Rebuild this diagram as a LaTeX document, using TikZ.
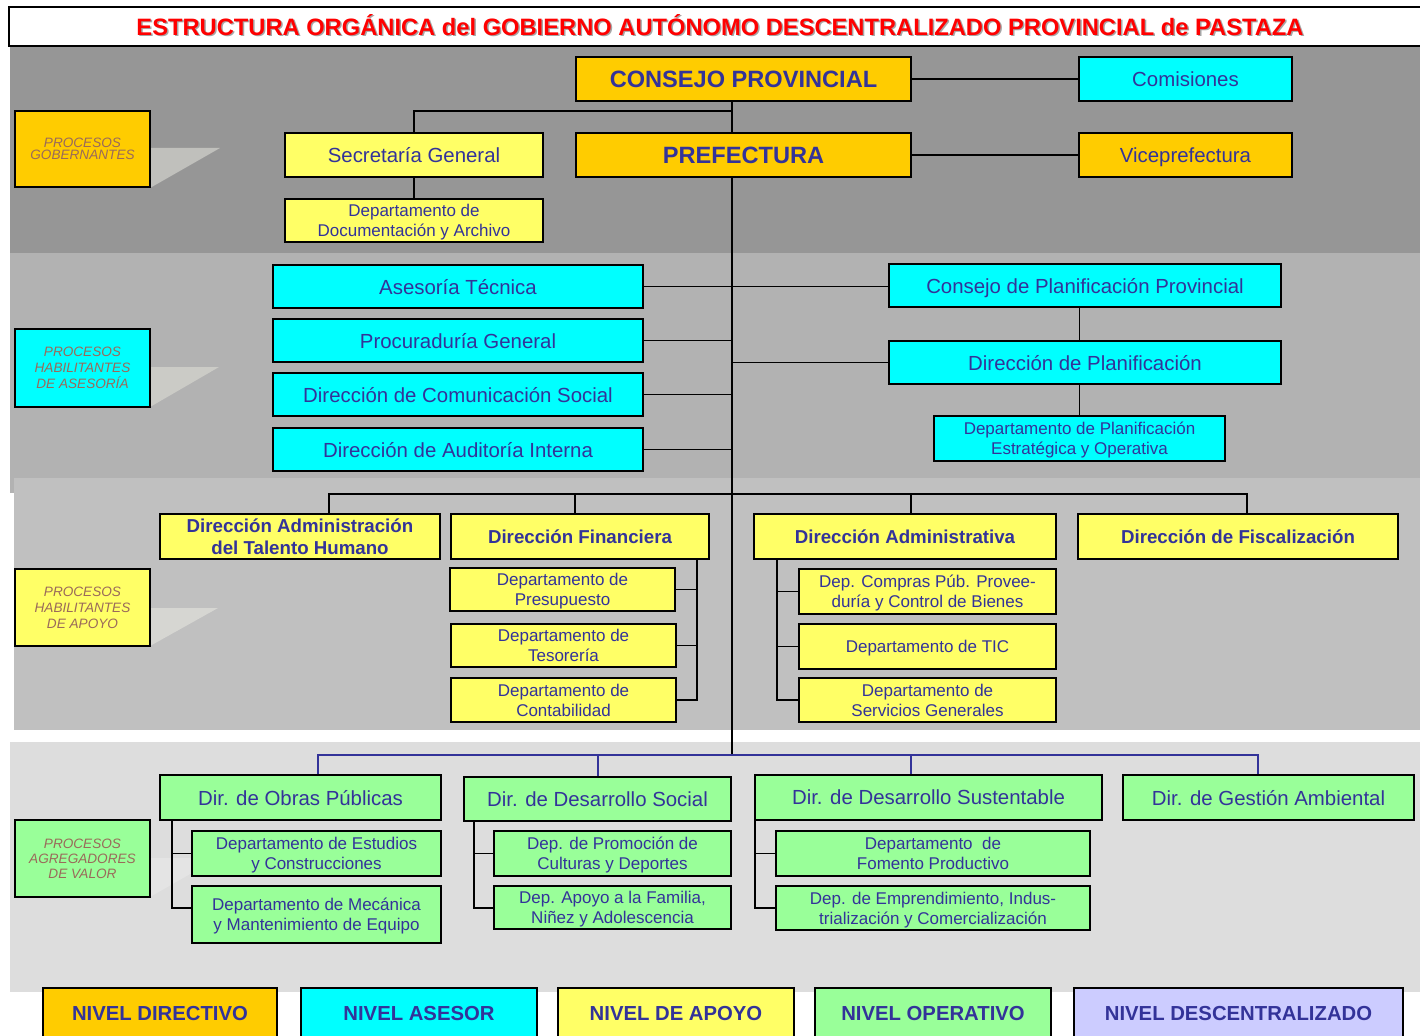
\documentclass[tikz,border=0pt]{standalone}
\usepackage{fontspec}
\setmainfont{Liberation Sans}
\definecolor{org}{HTML}{FFCC00}
\definecolor{cyn}{HTML}{00FFFF}
\definecolor{yel}{HTML}{FFFF66}
\definecolor{grn}{HTML}{99FF99}
\definecolor{lav}{HTML}{CCCCFF}
\definecolor{txt}{HTML}{333399}
\definecolor{lbl}{HTML}{9A6A5A}
\definecolor{bandA}{HTML}{969696}
\definecolor{bandB}{HTML}{B2B2B2}
\definecolor{bandC}{HTML}{C0C0C0}
\definecolor{bandD}{HTML}{DDDDDD}
\definecolor{ptrA}{HTML}{C0C0BC}
\definecolor{ptrB}{HTML}{CBCBC6}
\definecolor{ptrC}{HTML}{D6D6D2}
\definecolor{ptrD}{HTML}{E4E4E4}
\newcommand{\szBig}{\fontsize{23.6}{26}\selectfont\bfseries}
\newcommand{\szMid}{\fontsize{20.4}{24}\selectfont}
\newcommand{\szDir}{\fontsize{18.7}{22}\selectfont\bfseries}
\newcommand{\szDep}{\fontsize{17}{20}\selectfont}
\newcommand{\szLab}{\fontsize{13.6}{16}\selectfont\itshape}
\newcommand{\szLabT}{\fontsize{13.6}{12}\selectfont\itshape}
\newcommand{\szLeg}{\fontsize{20.3}{24}\selectfont\bfseries}
\newcommand{\bx}[7]{\node[#6, minimum width={(#4-#2)*1pt}, minimum height={(#5-#3)*1pt}] (#1) at ({(#2+#4)/2},{(#3+#5)/2}) {#7};}
\begin{document}
\begin{tikzpicture}[x=1pt,y=-1pt,
  box/.style={draw=black, line width=1.3pt, inner sep=2pt, align=center, text=txt, text depth=0pt},
  lbox/.style={draw=black, line width=1.3pt, inner sep=2pt, align=center, text=lbl},
  con/.style={draw=black, line width=1.3pt},
  bcon/.style={draw=txt, line width=1.3pt}]
\useasboundingbox (0,0) rectangle (1420,1035);
\fill[white] (0,0) rectangle (1420,1035);
% bands
\fill[bandA] (10,46) rectangle (1420,253);
\fill[bandB] (10,253) rectangle (1420,493);
\fill[bandC] (14,478) rectangle (1420,730);
\fill[bandD] (10,742) rectangle (1420,992);
% title
\draw[line width=1.3pt, fill=white] (9,7) rectangle (1430,46);
\node[font=\fontsize{23.7}{26}\selectfont\bfseries, text=black!35] (titsh) at (721.5,26.5) {ESTRUCTURA ORGÁNICA del GOBIERNO AUTÓNOMO DESCENTRALIZADO PROVINCIAL de PASTAZA};
\node[font=\fontsize{23.7}{26}\selectfont\bfseries, text=red] (title) at (720,25) {ESTRUCTURA ORGÁNICA del GOBIERNO AUTÓNOMO DESCENTRALIZADO PROVINCIAL de PASTAZA};
% label pointers
\fill[ptrA] (150,148) -- (220,148) -- (150,188) -- cycle;
\fill[ptrB] (150,367) -- (219,367) -- (150,407) -- cycle;
\fill[ptrC] (150,608) -- (218,608) -- (150,646) -- cycle;
\fill[ptrD] (150,858) -- (218,858) -- (150,897) -- cycle;
% left labels
\bx{lgob}{15}{111}{150}{187}{lbox,fill=org,font=\szLabT}{PROCESOS\\GOBERNANTES}
\bx{lase}{15}{329}{150}{407}{lbox,fill=cyn,font=\szLab}{PROCESOS\\HABILITANTES\\DE ASESORÍA}
\bx{lapo}{15}{569}{150}{646}{lbox,fill=yel,font=\szLab}{PROCESOS\\HABILITANTES\\DE APOYO}
\bx{lval}{15}{820}{150}{897}{lbox,fill=grn,font=\fontsize{13.6}{15}\selectfont\itshape}{PROCESOS\\AGREGADORES\\DE VALOR}
% band 1
\bx{consejo}{576}{57}{911}{101}{box,fill=org,font=\szBig}{CONSEJO PROVINCIAL}
\bx{comisiones}{1079}{57}{1292}{101}{box,fill=cyn,font=\szMid}{Comisiones}
\bx{secretaria}{285}{133}{543}{177}{box,fill=yel,font=\szMid}{Secretaría General}
\bx{prefectura}{576}{133}{911}{177}{box,fill=org,font=\szBig}{PREFECTURA}
\bx{vice}{1079}{133}{1292}{177}{box,fill=org,font=\szMid}{Viceprefectura}
\bx{docarch}{285}{199}{543}{242}{box,fill=yel,font=\szDep}{Departamento de\\Documentación y Archivo}
% band 2
\bx{asesoria}{273}{265}{643}{308}{box,fill=cyn,font=\szMid}{Asesoría Técnica}
\bx{procu}{273}{319}{643}{362}{box,fill=cyn,font=\szMid}{Procuraduría General}
\bx{comun}{273}{373}{643}{416}{box,fill=cyn,font=\szMid}{Dirección de Comunicación Social}
\bx{audit}{273}{428}{643}{471}{box,fill=cyn,font=\szMid}{Dirección de Auditoría Interna}
\bx{cplan}{889}{264}{1281}{307}{box,fill=cyn,font=\szMid}{Consejo de Planificación Provincial}
\bx{dplan}{889}{341}{1281}{384}{box,fill=cyn,font=\szMid}{Dirección de Planificación}
\bx{depplan}{934}{416}{1225}{461}{box,fill=cyn,font=\szDep}{Departamento de Planificación\\Estratégica y Operativa}
% band 3
\bx{talento}{160}{514}{440}{559}{box,fill=yel,font=\szDir}{Dirección Administración\\del Talento Humano}
\bx{financ}{451}{514}{709}{559}{box,fill=yel,font=\szDir}{Dirección Financiera}
\bx{admin}{754}{514}{1056}{559}{box,fill=yel,font=\szDir}{Dirección Administrativa}
\bx{fiscal}{1078}{514}{1398}{559}{box,fill=yel,font=\szDir}{Dirección de Fiscalización}
\bx{presup}{450}{568}{675}{611}{box,fill=yel,font=\szDep}{Departamento de\\Presupuesto}
\bx{tesor}{451}{624}{676}{667}{box,fill=yel,font=\szDep}{Departamento de\\Tesorería}
\bx{contab}{451}{678}{676}{722}{box,fill=yel,font=\szDep}{Departamento de\\Contabilidad}
\bx{compras}{799}{569}{1056}{614}{box,fill=yel,font=\szDep}{Dep. Compras Púb. Provee-\\duría y Control de Bienes}
\bx{tic}{799}{624}{1056}{669}{box,fill=yel,font=\szDep}{Departamento de TIC}
\bx{servic}{799}{678}{1056}{722}{box,fill=yel,font=\szDep}{Departamento de\\Servicios Generales}
% band 4
\bx{obras}{160}{775}{441}{820}{box,fill=grn,font=\szMid}{Dir. de Obras Públicas}
\bx{social}{464}{777}{731}{821}{box,fill=grn,font=\szMid}{Dir. de Desarrollo Social}
\bx{susten}{755}{775}{1102}{820}{box,fill=grn,font=\szMid}{Dir. de Desarrollo Sustentable}
\bx{ambient}{1123}{775}{1414}{820}{box,fill=grn,font=\szMid}{Dir. de Gestión Ambiental}
\bx{estud}{192}{831}{441}{876}{box,fill=grn,font=\szDep}{Departamento de Estudios\\y Construcciones}
\bx{mecan}{192}{886}{441}{943}{box,fill=grn,font=\szDep}{Departamento de Mecánica\\y Mantenimiento de Equipo}
\bx{promo}{494}{831}{731}{876}{box,fill=grn,font=\szDep}{Dep. de Promoción de\\Culturas y Deportes}
\bx{famil}{494}{886}{731}{929}{box,fill=grn,font=\szDep}{Dep. Apoyo a la Familia,\\Niñez y Adolescencia}
\bx{foment}{776}{831}{1090}{876}{box,fill=grn,font=\szDep}{Departamento\ \ de\\Fomento Productivo}
\bx{empren}{776}{886}{1090}{930}{box,fill=grn,font=\szDep}{Dep. de Emprendimiento, Indus-\\trialización y Comercialización}
% legend
\bx{lgdir}{43}{988}{277}{1038}{box,fill=org,font=\szLeg}{NIVEL DIRECTIVO}
\bx{lgase}{301}{988}{537}{1038}{box,fill=cyn,font=\szLeg}{NIVEL ASESOR}
\bx{lgapo}{558}{988}{794}{1038}{box,fill=yel,font=\szLeg}{NIVEL DE APOYO}
\bx{lgope}{815}{988}{1051}{1038}{box,fill=grn,font=\szLeg}{NIVEL OPERATIVO}
\bx{lgdes}{1074}{988}{1403}{1038}{box,fill=lav,font=\szLeg}{NIVEL DESCENTRALIZADO}
% connectors band 1
\coordinate (tx) at (732,755);
\coordinate (j1) at (732,111);
\draw[con] (consejo.east) -- (comisiones.west);
\draw[con] (prefectura.east) -- (vice.west);
\draw[con] (consejo.south -| tx) -- (prefectura.north -| tx);
\draw[con] (secretaria.north) |- (j1);
\draw[con] (secretaria.south) -- (docarch.north);
\draw[con] (prefectura.south -| tx) -- (tx);
% band 2
\draw[con] (asesoria.east) -- (asesoria.east -| cplan.west);
\draw[con] (procu.east) -- (procu.east -| tx);
\draw[con] (comun.east) -- (comun.east -| tx);
\draw[con] (audit.east) -- (audit.east -| tx);
\draw[con] (tx |- dplan.west) -- (dplan.west);
\draw[con] (cplan.south -| depplan.north) -- (dplan.north -| depplan.north);
\draw[con] (dplan.south -| depplan.north) -- (depplan.north);
% band 3
\coordinate (b3L) at (329,494);
\coordinate (b3R) at (1247,494);
\coordinate (b3f) at (575,494);
\coordinate (b3a) at (911,494);
\draw[con] (b3L |- talento.north) -- (b3L) -- (b3R) -- (b3R |- fiscal.north);
\draw[con] (b3f) -- (b3f |- financ.north);
\draw[con] (b3a) -- (b3a |- admin.north);
\coordinate (fx) at (697,700);
\draw[con] (financ.south -| fx) -- (fx |- contab.east) -- (contab.east);
\draw[con] (presup.east) -- (presup.east -| fx);
\draw[con] (tesor.east) -- (tesor.east -| fx);
\coordinate (ax) at (777,700);
\draw[con] (admin.south -| ax) -- (ax |- servic.west) -- (servic.west);
\draw[con] (compras.west) -- (compras.west -| ax);
\draw[con] (tic.west) -- (tic.west -| ax);
% band 4
\coordinate (b4L) at (318,755);
\coordinate (b4R) at (1258,755);
\coordinate (b4s) at (598,755);
\coordinate (b4u) at (911,755);
\draw[bcon] (b4L |- obras.north) -- (b4L) -- (b4R) -- (b4R |- ambient.north);
\draw[bcon] (b4s) -- (b4s |- social.north);
\draw[bcon] (b4u) -- (b4u |- susten.north);
\coordinate (ox) at (172,908);
\draw[con] (obras.south -| ox) -- (ox) -- (ox -| mecan.west);
\draw[con] (estud.west) -- (estud.west -| ox);
\coordinate (sx) at (474,908);
\draw[con] (social.south -| sx) -- (sx) -- (sx -| famil.west);
\draw[con] (promo.west) -- (promo.west -| sx);
\coordinate (ux) at (755,908);
\draw[con] (susten.south -| ux) -- (ux) -- (ux -| empren.west);
\draw[con] (foment.west) -- (foment.west -| ux);
\end{tikzpicture}
\end{document}
